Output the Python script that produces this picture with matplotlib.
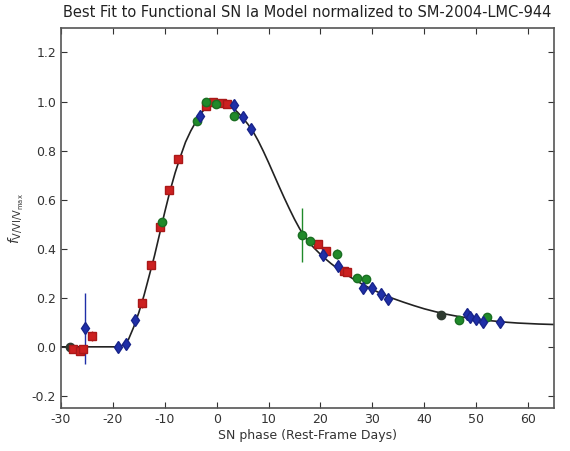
import numpy as np
import matplotlib
matplotlib.use('Agg')
import matplotlib.pyplot as plt

# model curve
model_phase = [-30, -18.5, -17, -16, -15, -14, -13, -12, -11, -10, -9, -8, -7, -6, -5, -4, -3, -2, -1,
               0, 1, 2, 3, 4, 5, 6, 7, 8, 9, 10, 11, 12, 13, 14, 15, 16, 17, 18, 19, 20, 21, 22, 23,
               24, 26, 28, 30, 32, 34, 36, 38, 40, 42, 44, 46, 48, 50, 52, 54, 56, 58, 60, 62, 65]
model_flux = [0.0, 0.0, 0.03, 0.08, 0.14, 0.21, 0.29, 0.37, 0.46, 0.55, 0.635, 0.71, 0.775, 0.835, 0.88,
              0.918, 0.952, 0.978, 0.994, 1.0, 0.998, 0.99, 0.976, 0.957, 0.934, 0.908, 0.878, 0.84,
              0.797, 0.751, 0.703, 0.655, 0.608, 0.563, 0.52, 0.481, 0.448, 0.42, 0.398, 0.377,
              0.358, 0.34, 0.324, 0.309, 0.281, 0.256, 0.234, 0.214, 0.197, 0.182, 0.168, 0.155,
              0.144, 0.134, 0.126, 0.119, 0.113, 0.108, 0.104, 0.1, 0.097, 0.095, 0.093, 0.091]

# red squares
red_phase = [-27.7, -26.3, -25.8, -24.0, -14.4, -12.7, -10.9, -9.2, -7.5, -2.1, -0.7, 1.0, 2.0,
             19.5, 21.1, 24.5, 25.1]
red_flux = [-0.01, -0.015, -0.01, 0.045, 0.18, 0.335, 0.49, 0.64, 0.766, 0.98, 1.0, 0.995, 0.99,
            0.418, 0.39, 0.31, 0.305]
red_err = [0.01, 0.01, 0.01, 0.02, 0.02, 0.015, 0.015, 0.015, 0.015, 0.01, 0.01, 0.01, 0.01,
           0.015, 0.015, 0.01, 0.01]

# green circles
green_phase = [-10.5, -3.8, -2.1, -0.1, 3.3, 16.4, 18.0, 23.2, 27.0, 28.8, 46.7, 52.1]
green_flux = [0.51, 0.92, 1.0, 0.99, 0.94, 0.455, 0.43, 0.377, 0.28, 0.275, 0.11, 0.12]
green_err = [0.015, 0.015, 0.01, 0.01, 0.015, 0.11, 0.015, 0.02, 0.01, 0.01, 0.01, 0.01]

# dark points
dark_phase = [-28.3, 43.2]
dark_flux = [0.0, 0.131]

# blue diamonds
blue_phase = [-25.4, -19.0, -17.5, -15.7, -3.2, 3.3, 5.1, 6.6, 20.5, 23.4, 28.2, 29.9, 31.7,
              33.0, 48.2, 48.8, 50.0, 51.3, 54.6]
blue_flux = [0.075, 0.0, 0.01, 0.11, 0.94, 0.985, 0.935, 0.89, 0.373, 0.33, 0.24, 0.238, 0.217,
             0.193, 0.135, 0.12, 0.115, 0.1, 0.103]
blue_err = [0.145, 0.01, 0.01, 0.015, 0.015, 0.02, 0.02, 0.02, 0.015, 0.015, 0.015, 0.01, 0.01,
            0.01, 0.015, 0.015, 0.01, 0.015, 0.01]

fig = plt.figure(figsize=(5.7, 4.51), dpi=100)
ax = fig.add_axes([0.107, 0.095, 0.865, 0.843])

ax.plot(model_phase, model_flux, color='#222222', lw=1.2, zorder=1)

ax.errorbar(red_phase, red_flux, yerr=red_err, fmt='s', color='#cc2020', ms=6, mec='#aa1818',
            elinewidth=1, capsize=0, zorder=3)
ax.errorbar(green_phase, green_flux, yerr=green_err, fmt='o', color='#208a2a', ms=6, mec='#1a6e22',
            elinewidth=1, capsize=0, zorder=3)
ax.plot(dark_phase, dark_flux, 'o', color='#2e3a30', ms=6, zorder=3)
ax.errorbar(blue_phase, blue_flux, yerr=blue_err, fmt='d', color='#1f2fa8', ms=6.5, mec='#18248a',
            elinewidth=1, capsize=0, zorder=3)

ax.set_xlim(-30, 65)
ax.set_ylim(-0.25, 1.3)
ax.set_xticks(np.arange(-30, 61, 10))
ax.set_yticks(np.arange(-0.2, 1.21, 0.2))
ax.set_yticklabels(['-0.2', '0.0', '0.2', '0.4', '0.6', '0.8', '1.0', '1.2'])
ax.set_xticklabels([str(v) for v in range(-30, 61, 10)])
ax.tick_params(direction='in', length=4, labelsize=9, top=True, right=True, colors='#333333')
for s in ax.spines.values():
    s.set_color('#555555')
    s.set_linewidth(1.2)

ax.set_title('Best Fit to Functional SN Ia Model normalized to SM-2004-LMC-944', fontsize=10.5,
             color='#222222', pad=8)
ax.set_xlabel('SN phase (Rest-Frame Days)', fontsize=9, color='#333333', labelpad=2)
ax.set_ylabel(r'$f_{\mathrm{V/VI/V}_{\mathrm{max}}}$', fontsize=10, color='#333333')

fig.savefig('out.png', dpi=100)
